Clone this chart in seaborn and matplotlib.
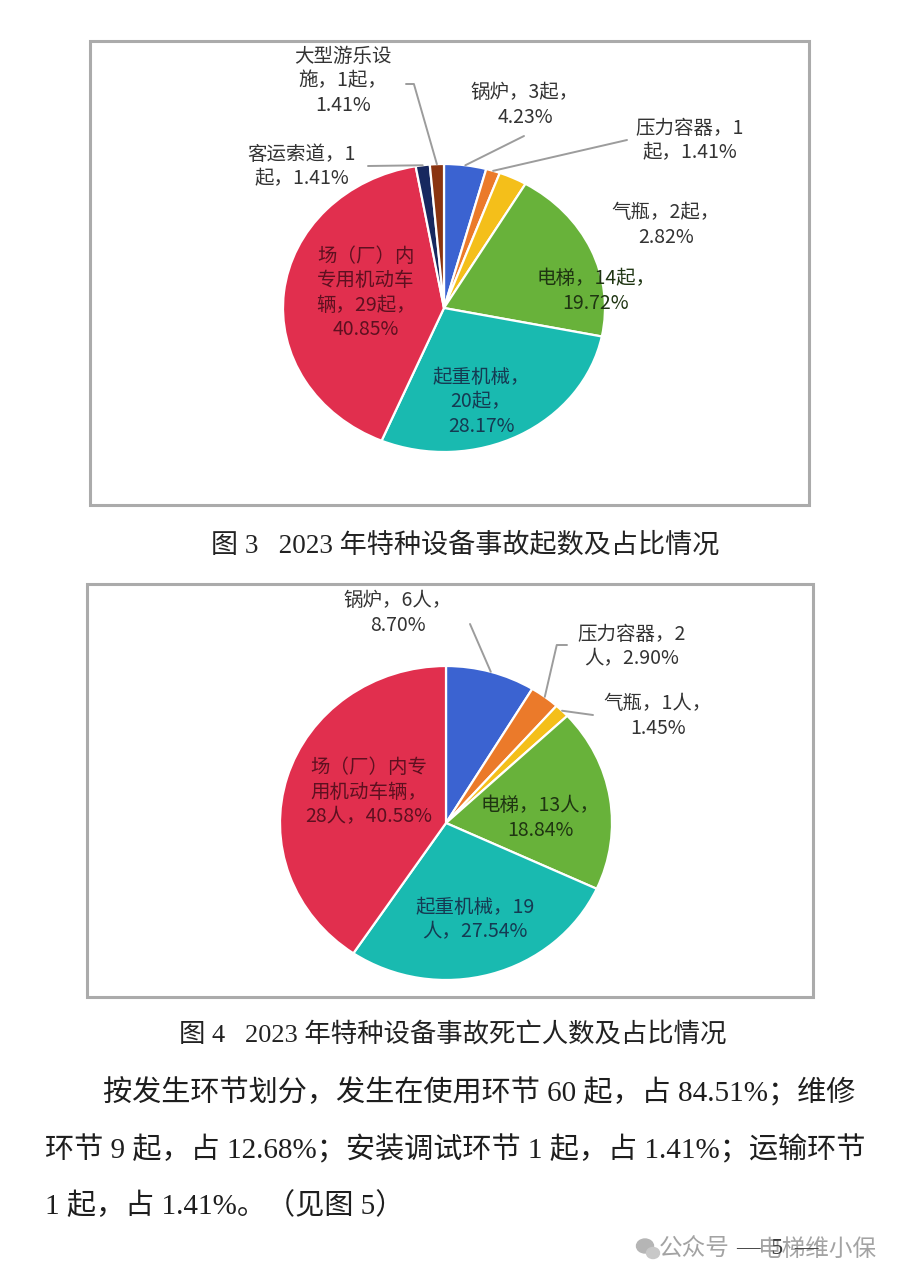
import matplotlib
matplotlib.use("Agg")
import matplotlib.pyplot as plt
from matplotlib.patches import Rectangle, Ellipse
import numpy as np
import seaborn as sns

# 图3 事故起数
acc_names = ['锅炉', '压力容器', '气瓶', '电梯', '起重机械', '场（厂）内专用机动车辆', '客运索道', '大型游乐设施']
acc_counts = [3, 1, 2, 14, 20, 29, 1, 1]
acc_pcts = ['4.23%', '1.41%', '2.82%', '19.72%', '28.17%', '40.85%', '1.41%', '1.41%']
acc_templates = [
    '锅炉，{n}起，\n{p}',
    '压力容器，{n}\n起，{p}',
    '气瓶，{n}起，\n{p}',
    '电梯，{n}起，\n{p}',
    '起重机械，\n{n}起，\n{p}',
    '场（厂）内\n专用机动车\n辆，{n}起，\n{p}',
    '客运索道，{n}\n起，{p}',
    '大型游乐设\n施，{n}起，\n{p}',
]

# 图4 死亡人数
death_names = ['锅炉', '压力容器', '气瓶', '电梯', '起重机械', '场（厂）内专用机动车辆']
death_counts = [6, 2, 1, 13, 19, 28]
death_pcts = ['8.70%', '2.90%', '1.45%', '18.84%', '27.54%', '40.58%']
death_templates = [
    '锅炉，{n}人，\n{p}',
    '压力容器，{n}\n人，{p}',
    '气瓶，{n}人，\n{p}',
    '电梯，{n}人，\n{p}',
    '起重机械，{n}\n人，{p}',
    '场（厂）内专\n用机动车辆，\n{n}人，{p}',
]

slice_colors = ['#3B63D1', '#EB7A2A', '#F4BF1A', '#68B23A', '#19BAB0', '#E12F4E', '#17285F', '#8A3410']

caption3 = '图 3   2023 年特种设备事故起数及占比情况'
caption4 = '图 4   2023 年特种设备事故死亡人数及占比情况'
body_lines = [
    '按发生环节划分，发生在使用环节 60 起，占 84.51%；维修',
    '环节 9 起，占 12.68%；安装调试环节 1 起，占 1.41%；运输环节',
    '1 起，占 1.41%。（见图 5）',
]

W, H = 911, 1283
sns.set_theme(style="white")
plt.rcParams['font.family'] = ['Noto Sans CJK SC', 'DejaVu Sans']
SERIF = ['Liberation Serif', 'Noto Sans CJK SC', 'DejaVu Sans']

fig = plt.figure(figsize=(W / 100, H / 100), dpi=100)
fig.patch.set_facecolor('white')
bg = fig.add_axes([0, 0, 1, 1])
bg.set_xlim(0, W)
bg.set_ylim(H, 0)
bg.axis('off')

# frames around the two charts
bg.add_patch(Rectangle((90, 41), 719, 464, fill=False, edgecolor='#ABABAB', lw=2.2))
bg.add_patch(Rectangle((87, 584), 726, 413, fill=False, edgecolor='#ABABAB', lw=2.2))

LINE = '#9C9C9C'
OUT = '#333333'


def draw_pie(values, texts, center, radii, label_pos, label_colors, leaders):
    cx, cy = center
    rx, ry = radii
    pad = 1.05
    ax = fig.add_axes([(cx - rx * pad) / W, 1 - (cy + ry * pad) / H,
                       2 * rx * pad / W, 2 * ry * pad / H])
    wedges, _ = ax.pie(values, colors=sns.color_palette(slice_colors[:len(values)]),
                       startangle=90, counterclock=False,
                       wedgeprops=dict(edgecolor='white', linewidth=1.6))
    ax.set_aspect('auto')
    ax.set_xlim(-pad, pad)
    ax.set_ylim(-pad, pad)
    ax.axis('off')

    # labels go on the pie axes (above the wedges) but are placed in page pixels
    for txt, (px, py), col in zip(texts, label_pos, label_colors):
        ax.text(px, py, txt, transform=bg.transData, ha='center', va='center',
                fontsize=14, color=col, linespacing=1.2, clip_on=False)

    for idx, (start, cs) in leaders.items():
        w = wedges[idx]
        mid = np.deg2rad((w.theta1 + w.theta2) / 2)
        xy = (w.r * np.cos(mid), w.r * np.sin(mid))
        ax.annotate('', xy=xy, xycoords='data', xytext=start,
                    textcoords=bg.transData, annotation_clip=False,
                    arrowprops=dict(arrowstyle='-', color=LINE, lw=1.4,
                                    shrinkA=0, shrinkB=0, connectionstyle=cs))
    return ax


acc_texts = [t.format(n=n, p=p) for t, n, p in zip(acc_templates, acc_counts, acc_pcts)]
draw_pie(
    acc_counts, acc_texts, center=(444, 308), radii=(161, 144),
    label_pos=[(525, 105), (690, 141), (666, 225), (596, 291), (481, 402),
               (366, 293), (302, 167), (343, 81)],
    label_colors=[OUT, OUT, OUT, '#1F3512', '#153A52', '#5E1020', OUT, OUT],
    leaders={
        0: ((524, 136), 'arc3'),
        1: ((627, 140), 'arc3'),
        6: ((368, 166), 'arc3'),
        7: ((406, 84), 'angle,angleA=0,angleB=106,rad=0'),
    },
)

death_texts = [t.format(n=n, p=p) for t, n, p in zip(death_templates, death_counts, death_pcts)]
draw_pie(
    death_counts, death_texts, center=(446, 823), radii=(166, 157),
    label_pos=[(398, 613), (632, 647), (658, 716), (540, 818), (475, 920), (369, 792)],
    label_colors=[OUT, OUT, OUT, '#1F3512', '#153A52', '#5E1020'],
    leaders={
        0: ((470, 624), 'arc3'),
        1: ((567, 645), 'angle,angleA=0,angleB=77,rad=0'),
        2: ((593, 715), 'arc3'),
    },
)

# captions and body text
bg.text(465, 546, caption3, ha='center', va='center', fontsize=19.5, color='#222222', family=SERIF)
bg.text(453, 1034, caption4, ha='center', va='center', fontsize=19, color='#222222', family=SERIF)
body_x = [103, 45, 45]
body_y = [1093, 1150, 1206]
for x, y, line in zip(body_x, body_y, body_lines):
    bg.text(x, y, line, ha='left', va='center', fontsize=21, color='#1E1E1E', family=SERIF)

# watermark footer (page number sits over the watermark, as in the scan)
bg.add_patch(Ellipse((645, 1246), 17, 14, color='#B5B5B5'))
bg.add_patch(Ellipse((653, 1253), 13, 11, color='#C8C8C8'))
bg.text(659, 1249, '公众号', ha='left', va='center', fontsize=17, color='#A3A3A3')
bg.text(758, 1249, '电梯维小保', ha='left', va='center', fontsize=17, color='#A3A3A3')
bg.text(777, 1249, '—  5  —', ha='center', va='center', fontsize=17, color='#3A3A3A', family=SERIF)

fig.savefig('out.png', dpi=100)
